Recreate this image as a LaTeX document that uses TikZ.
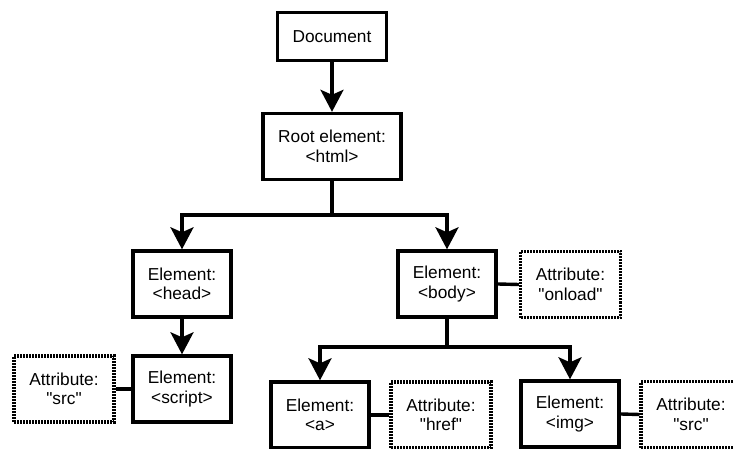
\documentclass[tikz,border=0pt]{standalone}
\usepackage{fontspec}
\setmainfont{Liberation Sans}[Ligatures=TeXOff]
\usetikzlibrary{arrows.meta}
\begin{document}
\begin{tikzpicture}[x=1pt,y=-1pt,
  elem/.style={draw,line width=3.4pt,minimum height=66pt,align=center,inner sep=2pt,font=\fontsize{17.3}{19.5}\selectfont},
  attr/.style={draw,line width=3.2pt,dash pattern=on 2pt off 1pt,minimum width=100pt,minimum height=66pt,align=center,inner sep=2pt,font=\fontsize{17.3}{19.5}\selectfont},
  link/.style={line width=3.4pt},
  arr/.style={line width=3.4pt,-{Stealth[length=22pt,width=23pt,inset=5pt]}}]
\useasboundingbox (0,0) rectangle (734,449);
\node[elem,minimum width=109pt,minimum height=48pt] (doc) at (332,36.5) {Document};
\node[elem,minimum width=138pt] (root) at (332,146.5) {Root element:\\<html>};
\node[elem,minimum width=98pt] (head) at (182,284) {Element:\\<head>};
\node[elem,minimum width=98pt] (body) at (447,284) {Element:\\<body>};
\node[attr] (onload) at (570.5,284.5) {Attribute:\\"onload"};
\node[elem,minimum width=98pt] (script) at (182,389) {Element:\\<script>};
\node[attr] (src1) at (64,389) {Attribute:\\"src"};
\node[elem,minimum width=98pt] (a) at (320,415) {Element:\\<a>};
\node[attr] (href) at (441,415) {Attribute:\\"href"};
\node[elem,minimum width=98pt] (img) at (570,414) {Element:\\<img>};
\node[attr] (src2) at (691,414.5) {Attribute:\\"src"};
\coordinate (b1) at (332,215);
\coordinate (b2) at (447,347);
\draw[arr] (doc.south) -- (root.north);
\draw[link] (root.south) -- (b1);
\draw[arr] (b1) -| (head.north);
\draw[arr] (b1) -| (body.north);
\draw[arr] (head.south) -- (script.north);
\draw[link] (body.south) -- (b2);
\draw[arr] (b2) -| (a.north);
\draw[arr] (b2) -| (img.north);
\draw[link] (src1.east) -- (script.west);
\draw[link] (body.east) -- (onload.west);
\draw[link] (a.east) -- (href.west);
\draw[link] (img.east) -- (src2.west);
\end{tikzpicture}
\end{document}
